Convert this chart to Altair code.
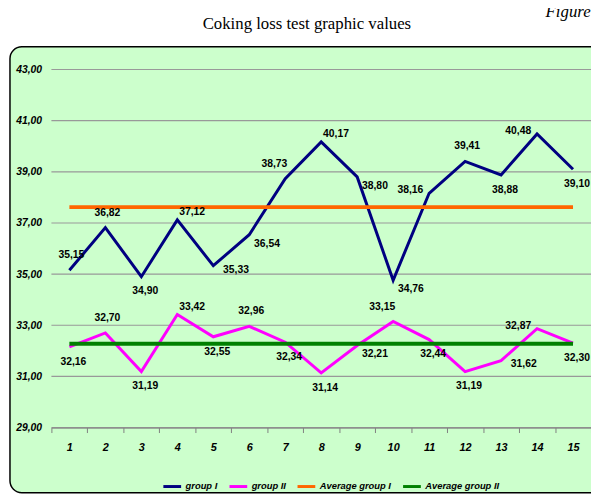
import altair as alt
import pandas as pd

# ---- data ----
x_vals = list(range(1, 16))
group_1 = [35.15, 36.82, 34.90, 37.12, 35.33, 36.54, 38.73, 40.17, 38.80, 34.76,
           38.16, 39.41, 38.88, 40.48, 39.10]
group_2 = [32.16, 32.70, 31.19, 33.42, 32.55, 32.96, 32.34, 31.14, 32.21, 33.15,
           32.44, 31.19, 31.62, 32.87, 32.30]
avg_group_1 = [37.62] * 15
avg_group_2 = [32.28] * 15
series_names = ["group I", "group II", "Average group I", "Average group II"]
series_colors = ["#000080", "#FF00FF", "#FF6600", "#008000"]
y_ticks = [29, 31, 33, 35, 37, 39, 41, 43]
title_text = "Coking loss test graphic values"
header_text = "Figure"
# data-label placement (like Excel label position)
label_pos_1 = ["t", "t", "b", "tr", "r", "br", "tl", "tr", "br", "br", "l", "t", "b", "l", "b"]
label_pos_2 = ["b", "t", "b", "tr", "b", "t", "b", "b", "br", "tl", "b", "b", "r", "l", "b"]

placements = {
    "t": (2, -15), "b": (4, 15), "tr": (15, -8), "r": (23, 4),
    "br": (18, 9), "tl": (-11, -15), "l": (-19, -3),
}

W, H = 547, 363
SANS = "Liberation Sans"

rows = []
for name, vals in zip(series_names, [group_1, group_2, avg_group_1, avg_group_2]):
    for x, v in zip(x_vals, vals):
        rows.append({"series": name, "x": x, "y": v})
df = pd.DataFrame(rows)

lab_rows = []
for vals, pos in [(group_1, label_pos_1), (group_2, label_pos_2)]:
    for x, v, p in zip(x_vals, vals, pos):
        lab_rows.append({"x": x, "y": v, "pos": p})
df_lab = pd.DataFrame(lab_rows)

df_grid = pd.DataFrame({"y": y_ticks})
df_one = pd.DataFrame({"a": [0]})

x_enc = alt.X("x:O", bandPosition=0.5,
              scale=alt.Scale(type="band", paddingInner=0, paddingOuter=0),
              axis=alt.Axis(title=None, labelAngle=0, tickBand="extent", zindex=2))
y_scale = alt.Scale(domain=[29, 43], nice=False, zero=False)
y_enc = alt.Y("y:Q", scale=y_scale,
              axis=alt.Axis(title=None, values=y_ticks, zindex=2,
                            labelExpr="replace(format(datum.value, '.2f'), '.', ',')"))
color_enc = alt.Color("series:N", sort=series_names,
                      scale=alt.Scale(domain=series_names, range=series_colors),
                      legend=alt.Legend(title=None, orient="none",
                                        legendX=112, legendY=H + 49))

bg = alt.Chart(df_one).mark_rect(fill="#CCFFCC", stroke="black", strokeWidth=1.5,
                                 cornerRadius=12).encode(
    x=alt.value(-42), x2=alt.value(W + 30), y=alt.value(-23), y2=alt.value(H + 66))

grid = alt.Chart(df_grid).mark_rule(color="#999999", strokeWidth=1.2).encode(
    y=alt.Y("y:Q", scale=y_scale), x=alt.value(0), x2=alt.value(W + 10))

lines_g = alt.Chart(df).transform_filter(
    alt.FieldOneOfPredicate(field="series", oneOf=series_names[:2])
).mark_line(strokeWidth=3).encode(x=x_enc, y=y_enc, color=color_enc)

lines_a = alt.Chart(df).transform_filter(
    alt.FieldOneOfPredicate(field="series", oneOf=series_names[2:])
).mark_line(strokeWidth=4).encode(x=x_enc, y=y_enc, color=color_enc)

label_layers = []
for code, (dx, dy) in placements.items():
    label_layers.append(
        alt.Chart(df_lab).transform_filter(alt.datum.pos == code)
        .transform_calculate(lbl="replace(format(datum.y, '.2f'), '.', ',')")
        .mark_text(dx=dx, dy=dy, font=SANS, fontSize=10.5, fontWeight="bold",
                   color="black", align="center", baseline="middle")
        .encode(x=x_enc, y=y_enc, text="lbl:N")
    )

title_mark = alt.Chart(df_one).mark_text(
    text=title_text, font="Liberation Serif", fontSize=17, align="center",
    baseline="alphabetic", color="black").encode(x=alt.value(259), y=alt.value(-41))

fig_text = alt.Chart(df_one).mark_text(
    text=header_text, font="Liberation Serif", fontSize=17, fontStyle="italic",
    align="left", baseline="alphabetic", color="black").encode(
    x=alt.value(501), y=alt.value(-53))

chart = alt.layer(bg, grid, lines_g, lines_a, *label_layers, title_mark, fig_text).properties(
    width=W, height=H,
    autosize=alt.AutoSizeParams(type="none"),
    padding={"left": 44, "top": 59, "right": 0, "bottom": 66},
).configure_view(stroke=None).configure_axisX(
    domainColor="#808080", tickColor="#808080", tickSize=5, grid=False,
    labelFont=SANS, labelFontSize=11, labelFontWeight="bold",
    labelFontStyle="italic", labelColor="black", labelPadding=9,
).configure_axisY(
    grid=False, domain=False, ticks=False, labelPadding=10,
    labelFont=SANS, labelFontSize=10.5, labelFontWeight="bold",
    labelFontStyle="italic", labelColor="black",
).configure_legend(
    direction="horizontal",
    labelFont=SANS, labelFontSize=9.5, labelFontWeight="bold",
    labelFontStyle="italic", labelColor="black",
    symbolType="stroke", symbolStrokeWidth=3, symbolSize=324,
    columnPadding=5, labelOffset=3,
)

chart.save("out.html", embed_options={"renderer": "svg", "actions": False})
